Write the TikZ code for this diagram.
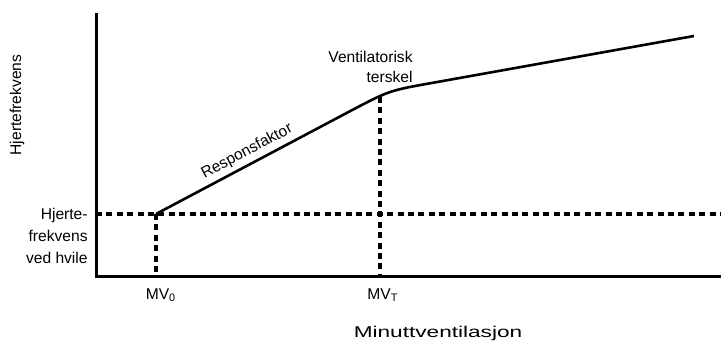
\documentclass[tikz,border=0pt]{standalone}
\usepackage{fontspec}
\setmainfont{Liberation Sans}
\usepackage{graphicx}
\usetikzlibrary{positioning}

\begin{document}
\begin{tikzpicture}[x=0.5pt, y=0.5pt,
    axis/.style={line width=1.5pt},
    guide/.style={line width=1.6pt, dash pattern=on 3pt off 2.2pt},
    response/.style={line width=1.3pt},
    lbl/.style={inner sep=0pt, text=black, font=\fontsize{7.8}{11}\selectfont}]
    \useasboundingbox (0,0) rectangle (721,342);

    % axes and reference points
    \coordinate (Origin) at (96,65);
    \coordinate (YTop) at (96,329);
    \coordinate (XEnd) at (721,65);
    \coordinate (RestLeft) at (96,128);
    \coordinate (RestRight) at (721,128);
    \coordinate (Rest) at (156,128);
    \coordinate (RestFoot) at (156,65);
    \coordinate (Threshold) at (380,245);
    \coordinate (ThresholdFoot) at (380,65);
    \coordinate (BendIn) at (350,230.8);
    \coordinate (BendCtrl) at (389,251.3);
    \coordinate (BendOut) at (430,258.7);
    \coordinate (Peak) at (694,306);

    \draw[axis] (YTop) -- (Origin) -- (XEnd);

    \draw[guide] (RestLeft) -- (RestRight);
    \draw[guide] (Rest) -- (RestFoot);
    \draw[guide] (Threshold) -- (ThresholdFoot);

    \draw[response] (Rest) -- node[lbl, midway, sloped, above=2pt] (Response) {Responsfaktor} (BendIn)
        .. controls (BendCtrl) .. (BendOut) -- (Peak);

    \node[lbl, rotate=90] (YLabel) at (17,237) {Hjertefrekvens};

    \node[lbl, align=right, anchor=east] (RestLabel) at (88,106) {Hjerte-\\frekvens\\ved hvile};

    \node[lbl, below=5.5pt of RestFoot, xshift=2.5pt] (MVZero) {MV\textsubscript{0}};
    \node[lbl, below=5.5pt of ThresholdFoot, xshift=1.5pt] (MVT) {MV\textsubscript{T}};

    \node[lbl, align=right, anchor=east, font=\fontsize{7.8}{10}\selectfont] (ThresholdLabel) at (413,275) {Ventilatorisk\\terskel};

    \node[lbl] (XLabel) at (438,9) {\scalebox{1.45}[1]{Minuttventilasjon}};
\end{tikzpicture}
\end{document}
